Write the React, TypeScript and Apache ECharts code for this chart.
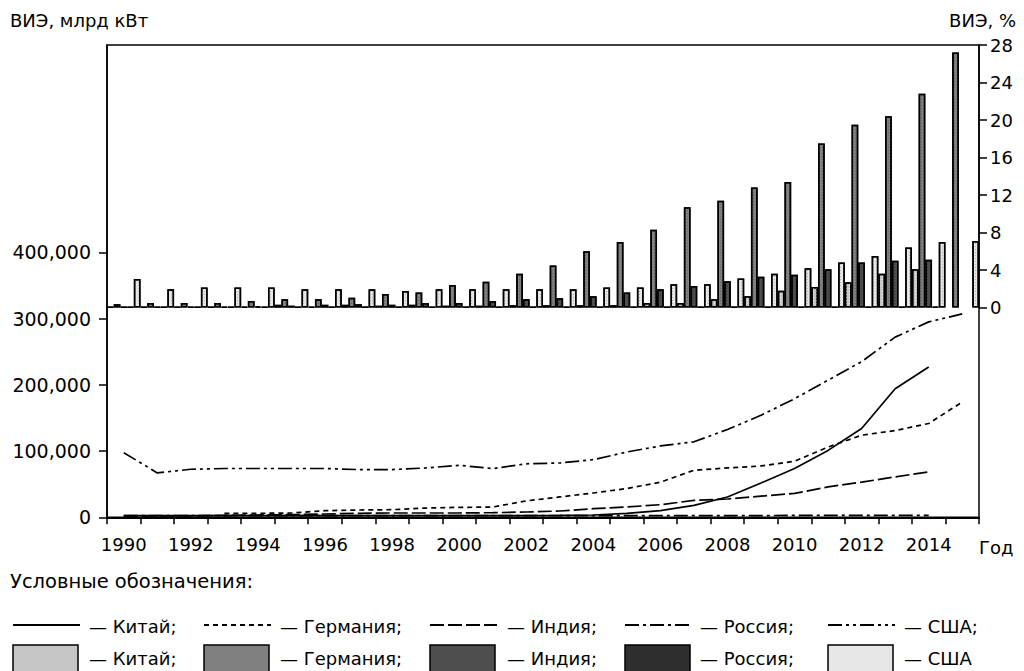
import React, { useEffect, useRef } from "react";
import * as echarts from "echarts";

const FONT = "DejaVu Sans";

const years = [
  "1990", "1991", "1992", "1993", "1994", "1995", "1996", "1997", "1998", "1999",
  "2000", "2001", "2002", "2003", "2004", "2005", "2006", "2007", "2008", "2009",
  "2010", "2011", "2012", "2013", "2014", "2015",
];

// Share of renewables, % (bars, right axis)
const chinaShare = [0.05, 0.05, 0.05, 0.05, 0.1, 0.3, 0.1, 0.3, 0.2, 0.3, 0.2, 0.2, 0.25, 0.25, 0.25, 0.25, 0.5, 0.5, 0.9, 1.2, 1.8, 2.2, 2.7, 3.6, 4.1, null];
const germanyShare = [0.35, 0.5, 0.5, 0.5, 0.7, 0.9, 0.9, 1.05, 1.45, 1.6, 2.4, 2.75, 3.6, 4.5, 6.0, 7.0, 8.3, 10.7, 11.4, 12.8, 13.4, 17.5, 19.5, 20.4, 22.8, 27.2];
const indiaShare = [0.05, 0.05, 0.1, 0.1, 0.15, 0.2, 0.3, 0.35, 0.3, 0.5, 0.5, 0.7, 0.9, 1.0, 1.2, 1.6, 1.95, 2.3, 2.8, 3.3, 3.5, 4.1, 4.8, 5.0, 5.1, null];
const russiaShare = [0.05, 0.05, 0.05, 0.05, 0.05, 0.05, 0.05, 0.05, 0.05, 0.05, 0.05, 0.05, 0.05, 0.05, 0.05, 0.05, 0.05, 0.05, 0.05, 0.05, 0.05, 0.05, 0.05, 0.05, 0.1, null];
const usaShare = [3.05, 1.95, 2.15, 2.15, 2.15, 1.95, 1.95, 1.95, 1.77, 1.95, 1.95, 1.95, 1.95, 1.95, 2.15, 2.15, 2.5, 2.5, 3.1, 3.6, 4.2, 4.8, 5.5, 6.4, 7.0, 7.1];

// Renewable generation (lines, left axis)
const chinaGen = [2400, 2400, 2400, 2400, 2400, 2400, 2400, 2400, 2400, 2400, 2400, 2400, 2500, 2800, 3500, 6000, 10000, 18000, 30700, 51800, 73600, 101000, 134000, 194000, 227000, null];
const germanyGen = [null, null, null, 6000, 6000, 6500, 10000, 11000, 11500, 14000, 15000, 15500, 24700, 30700, 36700, 43400, 53000, 71000, 74500, 77500, 84600, 106000, 124000, 131000, 141600, 174000];
const indiaGen = [2000, 2000, 2000, 3000, 3500, 4000, 5000, 6000, 6500, 6500, 6500, 7000, 8000, 9500, 13000, 15600, 19000, 25600, 27600, 32000, 36000, 46000, 53000, 61000, 68500, null];
const russiaGen = [2500, 2500, 2500, 2500, 2500, 2500, 2500, 2500, 2500, 2500, 2500, 2500, 2500, 2500, 2500, 2500, 2500, 2500, 2500, 2500, 3000, 3000, 3000, 3000, 3000, null];
const usaGen = [97600, 67000, 72500, 73700, 73700, 73700, 73700, 72000, 72000, 74500, 78500, 73500, 80800, 82000, 87000, 98600, 107700, 114000, 132500, 154000, 179000, 207000, 235000, 272000, 295000, 307000];

const leftTicks = [0, 100000, 200000, 300000, 400000];
const rightTicks = [0, 4, 8, 12, 16, 20, 24, 28];

const names = ["Китай", "Германия", "Индия", "Россия", "США"];
const barColors = ["#c6c6c6", "#808080", "#4e4e4e", "#2e2e2e", "#e6e6e6"];
const decalColors = ["rgba(255,255,255,0.75)", "rgba(40,40,40,0.35)", "rgba(0,0,0,0.3)", "rgba(0,0,0,0.3)", "rgba(120,120,120,0.45)"];
const lineDashes: any[] = ["solid", [5, 4], [14, 4], [14, 4, 3, 4], [14, 4, 3, 4, 3, 4]];

const GRID_LEFT = 107;
const GRID_TOP = 45;
const GRID_W = 872;
const BAR_H = 262.6;
const LINE_H = 472.3;

function fmt(v: number) {
  return Math.round(v).toString().replace(/\B(?=(\d{3})+(?!\d))/g, ",");
}

export default function App() {
  const ref = useRef<HTMLDivElement>(null);
  useEffect(() => {
    if (!ref.current) return;
    const chart = echarts.init(ref.current, undefined, { renderer: "svg" });
    const shares = [chinaShare, germanyShare, indiaShare, russiaShare, usaShare];
    const gens = [chinaGen, germanyGen, indiaGen, russiaGen, usaGen];

    const barSeries = shares.map((d, i) => ({
      type: "bar",
      name: names[i] + " %",
      xAxisIndex: 0,
      yAxisIndex: 0,
      data: d,
      barGap: "0%",
      barCategoryGap: "0%",
      itemStyle: {
        color: barColors[i],
        borderColor: "#000",
        borderWidth: 1.5,
        decal: {
          symbol: "rect",
          symbolSize: 1,
          dashArrayX: [1, 2],
          dashArrayY: [1, 2],
          color: decalColors[i],
        },
      },
    }));
    const lineSeries = gens.map((d, i) => ({
      type: "line",
      name: names[i],
      xAxisIndex: 1,
      yAxisIndex: 1,
      data: d,
      symbol: "none",
      connectNulls: false,
      lineStyle: { color: "#000", width: 1.7, type: lineDashes[i] },
    }));

    const row1 = 625;
    const row2Top = 645;
    const row2Mid = 658;
    const samples = [
      { x: 13, tx: 89 },
      { x: 204, tx: 280 },
      { x: 430, tx: 507 },
      { x: 625, tx: 700 },
      { x: 828, tx: 904 },
    ];
    const graphics: any[] = [
      { type: "text", x: 10, y: 20, style: { text: "ВИЭ, млрд кВт", fontSize: 18, fontFamily: FONT, fill: "#000", verticalAlign: "middle" } },
      { type: "text", x: 1016, y: 20, style: { text: "ВИЭ, %", fontSize: 18, fontFamily: FONT, fill: "#000", align: "right", verticalAlign: "middle" } },
      { type: "text", x: 979, y: 547, style: { text: "Год", fontSize: 18, fontFamily: FONT, fill: "#000", verticalAlign: "middle" } },
      { type: "text", x: 10, y: 581, style: { text: "Условные обозначения:", fontSize: 19.5, fontFamily: FONT, fill: "#000", verticalAlign: "middle" } },
    ];
    samples.forEach((s, i) => {
      graphics.push({
        type: "line",
        shape: { x1: s.x, y1: row1, x2: s.x + 67, y2: row1 },
        style: { stroke: "#000", lineWidth: 2, lineDash: i === 0 ? null : lineDashes[i] },
      });
      graphics.push({
        type: "text", x: s.tx, y: row1 + 1,
        style: { text: "— " + names[i] + ";", fontSize: 18, fontFamily: FONT, fill: "#000", verticalAlign: "middle" },
      });
      graphics.push({
        type: "rect",
        shape: { x: s.x, y: row2Top, width: 65, height: 30 },
        style: { fill: barColors[i], stroke: "#000", lineWidth: 1.5 },
      });
      graphics.push({
        type: "text", x: s.tx, y: row2Mid,
        style: { text: "— " + names[i] + (i < 4 ? ";" : ""), fontSize: 18, fontFamily: FONT, fill: "#000", verticalAlign: "middle" },
      });
    });

    const option: any = {
      animation: false,
      backgroundColor: "#fff",
      textStyle: { fontFamily: FONT, color: "#000" },
      grid: [
        { left: GRID_LEFT, top: GRID_TOP, width: GRID_W, height: BAR_H, show: false },
        { left: GRID_LEFT, top: GRID_TOP, width: GRID_W, height: LINE_H, show: true, borderColor: "#000", borderWidth: 1.5, backgroundColor: "transparent" },
      ],
      xAxis: [
        {
          type: "category", gridIndex: 0, data: years, boundaryGap: true,
          axisLine: { show: false }, axisTick: { show: false }, axisLabel: { show: false }, splitLine: { show: false },
        },
        {
          type: "category", gridIndex: 1, data: years, boundaryGap: true,
          axisLine: { show: true, lineStyle: { color: "#000", width: 2 } },
          axisTick: { show: true, interval: 0, length: 7, lineStyle: { color: "#000", width: 1.5 } },
          axisLabel: { interval: 1, fontSize: 18, color: "#000", margin: 18, fontFamily: FONT },
          splitLine: { show: false },
        },
      ],
      yAxis: [
        {
          type: "value", gridIndex: 0, position: "right", min: 0, max: 28, interval: 4,
          axisLine: { show: true, lineStyle: { color: "#000", width: 1.5 } },
          axisTick: { show: true, length: 8, lineStyle: { color: "#000", width: 1.5 }, customValues: rightTicks },
          axisLabel: { fontSize: 18, color: "#000", margin: 11, fontFamily: FONT, customValues: rightTicks },
          splitLine: { show: false },
        },
        {
          type: "value", gridIndex: 1, position: "left", min: 0, max: 713000, interval: 100000,
          axisLine: { show: true, lineStyle: { color: "#000", width: 1.5 } },
          axisTick: { show: true, length: 8, lineStyle: { color: "#000", width: 1.5 }, customValues: leftTicks },
          axisLabel: { fontSize: 19, color: "#000", margin: 16, fontFamily: FONT, customValues: leftTicks, formatter: (v: number) => fmt(v) },
          splitLine: { show: false },
        },
      ],
      series: [...barSeries, ...lineSeries],
      graphic: graphics,
    };
    chart.setOption(option);
    return () => chart.dispose();
  }, []);
  return <div ref={ref} style={{ position: "fixed", left: 0, top: 0, width: 1024, height: 671 }} />;
}
